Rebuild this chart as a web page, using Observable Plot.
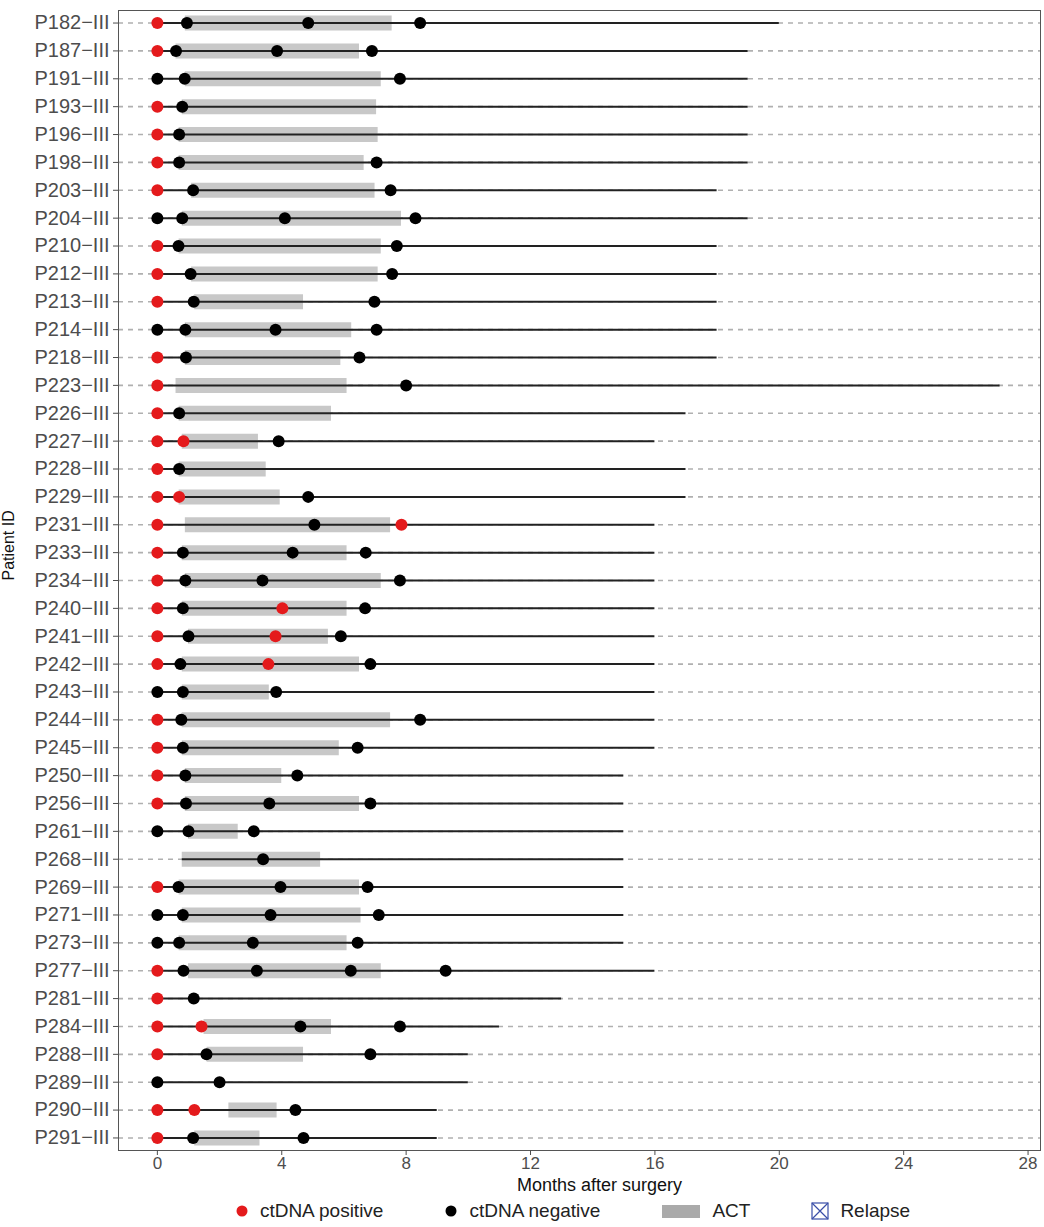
<!DOCTYPE html>
<html><head><meta charset="utf-8">
<script src="https://cdn.jsdelivr.net/npm/d3@7"></script>
<script src="https://cdn.jsdelivr.net/npm/@observablehq/plot@0.6"></script>
<style>
body{margin:0;background:#fff;font-family:"Liberation Sans",Arial,sans-serif;}
#legend{display:flex;justify-content:center;font-size:19px;color:#222;margin-top:0px;padding-left:100px}
.item{display:flex;align-items:center;margin:0 30px}
.item svg{margin-right:10px}
</style></head><body>
<div id="chart"></div>
<div id="legend">
<div class="item"><svg width="16" height="16"><circle cx="8" cy="8" r="5.5" fill="#e41a1c"/></svg>ctDNA positive</div>
<div class="item"><svg width="16" height="16"><circle cx="8" cy="8" r="5.5" fill="#000"/></svg>ctDNA negative</div>
<div class="item"><svg width="42" height="16"><rect x="2" y="2" width="38" height="13" fill="#aaaaaa"/></svg>ACT</div>
<div class="item"><svg width="20" height="20"><rect x="2" y="2" width="16" height="16" fill="none" stroke="#3a4fa8" stroke-width="1.2"/><path d="M2 2L18 18M18 2L2 18" stroke="#3a4fa8" stroke-width="1.2"/></svg>Relapse</div>
</div>
<script>
const ids = ["P182","P187","P191","P193","P196","P198","P203","P204","P210","P212","P213","P214","P218","P223","P226","P227","P228","P229","P231","P233","P234","P240","P241","P242","P243","P244","P245","P250","P256","P261","P268","P269","P271","P273","P277","P281","P284","P288","P289","P290","P291"].map(d => d + "−III");
const followStart = [0,0,0,0,0,0,0,0,0,0,0,0,0,0,0,0,0,0,0,0,0,0,0,0,0,0,0,0,0,0,0.8,0,0,0,0,0,0,0,0,0,0];
const followEnd = [20,19,19,19,19,19,18,19,18,18,18,18,18,27.1,17,16,17,17,16,16,16,16,16,16,16,16,16,15,15,15,15,15,15,15,16,13,11,10,10,9,9];
const actStart = [0.9,0.6,0.9,0.8,0.7,0.7,1.1,0.8,0.7,1.1,1.2,0.9,0.9,0.6,0.7,0.8,0.7,0.7,0.9,0.8,0.9,0.8,1.0,0.8,0.8,0.8,0.8,0.9,0.9,1.0,0.8,0.7,0.8,0.7,1.0,null,1.5,1.6,null,2.3,1.2];
const actEnd = [7.55,6.5,7.2,7.05,7.1,6.65,7.0,7.85,7.2,7.1,4.7,6.25,5.9,6.1,5.6,3.25,3.5,3.95,7.5,6.1,7.2,6.1,5.5,6.5,3.6,7.5,5.85,4.0,6.5,2.6,5.25,6.5,6.55,6.1,7.2,null,5.6,4.7,null,3.85,3.3];
const sampleTimes = [
 [0,0.95,4.85,8.45],[0,0.6,3.85,6.9],[0,0.88,7.8],[0,0.8],[0,0.7],[0,0.7,7.05],[0,1.15,7.5],[0,0.8,4.1,8.3],[0,0.68,7.7],[0,1.07,7.55],
 [0,1.17,6.98],[0,0.9,3.8,7.05],[0,0.92,6.5],[0,8.0],[0,0.7],[0,0.84,3.9],[0,0.7],[0,0.7,4.85],[0,5.05,7.85],[0,0.82,4.35,6.7],
 [0,0.9,3.38,7.8],[0,0.82,4.02,6.68],[0,1.0,3.8,5.9],[0,0.74,3.57,6.85],[0,0.82,3.82],[0,0.77,8.45],[0,0.82,6.44],[0,0.9,4.5],[0,0.92,3.6,6.85],[0,1.0,3.1],
 [3.4],[0,0.68,3.96,6.76],[0,0.82,3.64,7.12],[0,0.7,3.07,6.44],[0,0.84,3.2,6.22,9.27],[0,1.17],[0,1.42,4.6,7.8],[0,1.58,6.85],[0,2.0],[0,1.19,4.44],[0,1.15,4.7]
];
const sampleStatus = [
 "pnnn","pnnn","nnn","pn","pn","pnn","pnn","nnnn","pnn","pnn",
 "pnn","nnnn","pnn","pn","pn","ppn","pn","ppn","pnp","pnnn",
 "pnnn","pnpn","pnpn","pnpn","nnn","pnn","pnn","pnn","pnnn","nnn",
 "n","pnnn","nnnn","nnnn","pnnnn","pn","ppnn","pnn","nn","ppn","pnn"
];
const xTicks = [0,4,8,12,16,20,24,28];

const rows = ids.map((id,i)=>({id, s:followStart[i], e:followEnd[i], a1:actStart[i], a2:actEnd[i]}));
const acts = rows.filter(r => r.a1 != null);
const samples = ids.flatMap((id,i)=>sampleTimes[i].map((t,j)=>({id, t, pos: sampleStatus[i][j]==="p"})));

const plot = Plot.plot({
  width: 1044, height: 1200,
  marginLeft: 118, marginRight: 4, marginTop: 10, marginBottom: 50,
  style: {fontFamily: '"Liberation Sans", Arial, sans-serif', fontSize: "17px", color: "#4d4d4d", background: "#fff"},
  x: {domain: [-1.25, 28.4], ticks: xTicks, label: null, tickSize: 5},
  y: {type: "point", domain: ids, padding: 0.45, label: null, tickSize: 5},
  marks: [
    Plot.ruleY(ids, {y: d => d, stroke: "#b0b0b0", strokeWidth: 1.6, strokeDasharray: "5,5"}),
    Plot.ruleY(acts, {y: "id", x1: "a1", x2: "a2", stroke: "#c8c8c8", strokeWidth: 15}),
    Plot.ruleY(rows, {y: "id", x1: "s", x2: "e", stroke: "#222", strokeWidth: 2}),
    Plot.dot(samples, {x: "t", y: "id", r: 6, fill: d => d.pos ? "#e41a1c" : "#000", stroke: "none"}),
    Plot.frame({stroke: "#555", strokeWidth: 1}),
    Plot.axisX({ticks: xTicks, tickSize: 5, tickPadding: 1, fontSize: 17, label: null}),
    Plot.axisY({tickSize: 5, fontSize: 20, fill: "#4d4d4d", label: null}),
    Plot.text(["Months after surgery"], {frameAnchor: "bottom", dy: 40, fontSize: 18, fill: "#111", dx: 20}),
    Plot.text(["Patient ID"], {frameAnchor: "left", dx: -110, rotate: -90, fontSize: 16, fill: "#111"})
  ]
});
document.getElementById("chart").appendChild(plot);
</script>
</body></html>
